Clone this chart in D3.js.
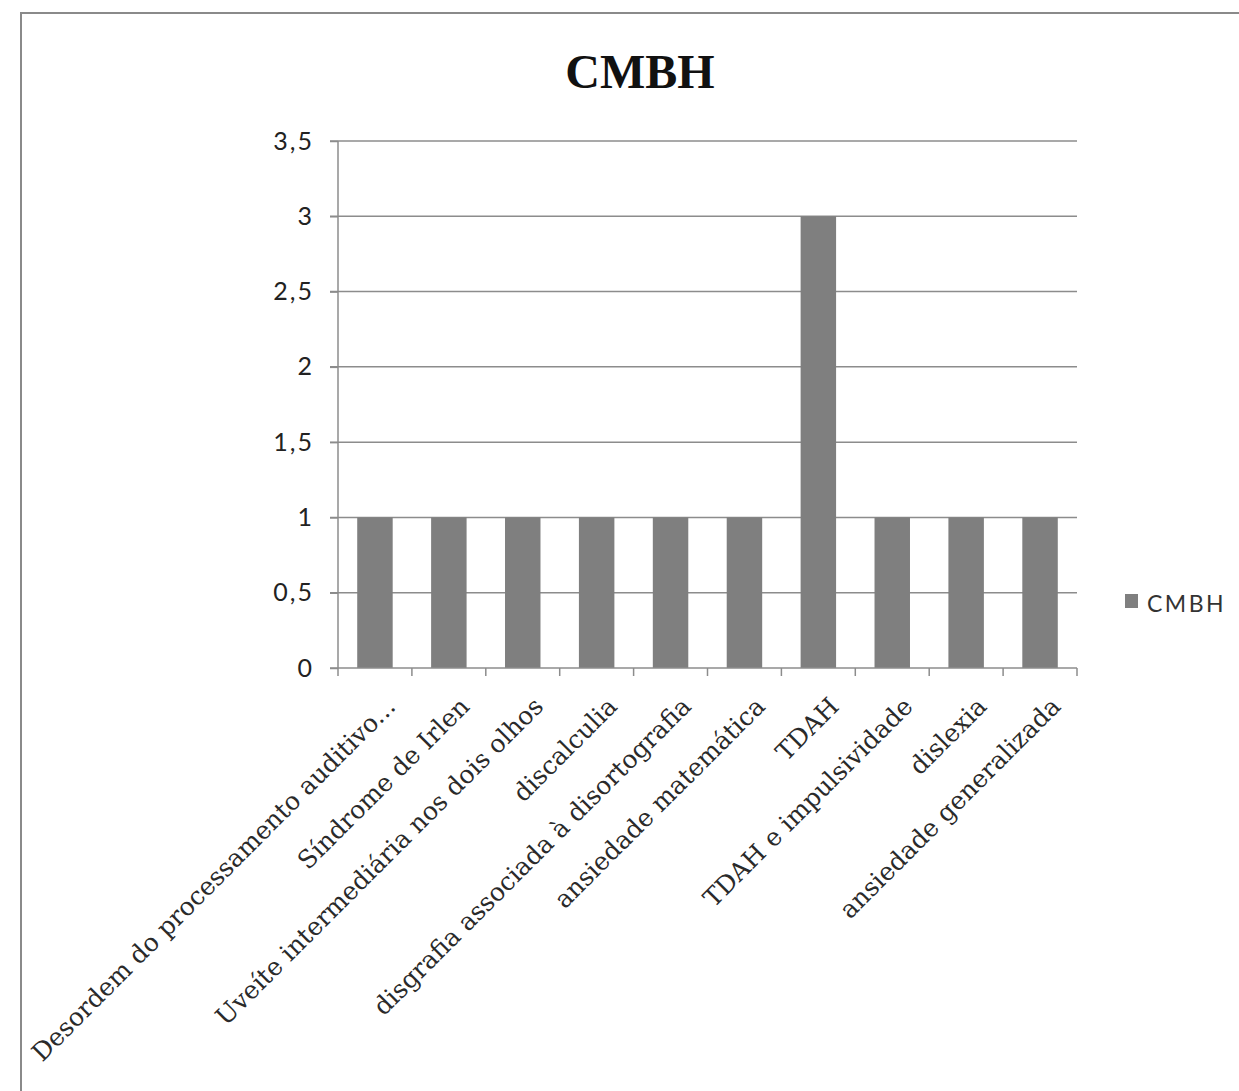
<!DOCTYPE html>
<html>
<head>
<meta charset="utf-8">
<script src="https://cdn.jsdelivr.net/npm/d3@7"></script>
<style>
  body { margin: 0; background: #fff; }
</style>
</head>
<body>
<svg></svg>
<script>
var width = 1239,
    height = 1091;

// data
var categories = ["Desordem do processamento auditivo...", "Síndrome de Irlen", "Uveíte intermediária nos dois olhos",
  "discalculia", "disgrafia associada à disortografia", "ansiedade matemática", "TDAH",
  "TDAH e impulsividade", "dislexia", "ansiedade generalizada"];
var values = [1, 1, 1, 1, 1, 1, 3, 1, 1, 1];
var yTicks = [0, 0.5, 1, 1.5, 2, 2.5, 3, 3.5];
var seriesName = "CMBH";

var margin = {left: 338, right: 1077, top: 141, bottom: 668};

var svg = d3.select("svg")
    .attr("width", width)
    .attr("height", height);

// outer frame
svg.append("rect")
    .attr("x", 21).attr("y", 13)
    .attr("width", 1260).attr("height", 1120)
    .attr("fill", "none")
    .attr("stroke", "#8a8a8a")
    .attr("stroke-width", 2);

var x = d3.scaleBand()
    .domain(categories)
    .range([margin.left, margin.right])
    .paddingInner(0.52)
    .paddingOuter(0.26);

var xStep = d3.scaleBand().domain(categories).range([margin.left, margin.right]);

var y = d3.scaleLinear()
    .domain([0, 3.5])
    .range([margin.bottom, margin.top]);

// gridlines
svg.append("g")
  .selectAll("line")
  .data(yTicks.filter(function(d) { return d > 0; }))
  .enter().append("line")
    .attr("x1", margin.left - 8)
    .attr("x2", margin.right)
    .attr("y1", function(d) { return y(d); })
    .attr("y2", function(d) { return y(d); })
    .attr("stroke", "#8c8c8c")
    .attr("stroke-width", 1.5);

// bars
svg.append("g")
  .selectAll("rect")
  .data(values)
  .enter().append("rect")
    .attr("x", function(d, i) { return x(categories[i]); })
    .attr("width", x.bandwidth())
    .attr("y", function(d) { return y(d); })
    .attr("height", function(d) { return y(0) - y(d); })
    .attr("fill", "#7f7f7f");

// y axis
var yAxis = svg.append("g")
    .attr("transform", "translate(" + margin.left + ",0)")
    .call(d3.axisLeft(y).tickValues(yTicks).tickSize(8).tickPadding(16)
      .tickFormat(function(d) { return String(d).replace(".", ","); }));
yAxis.selectAll("line, path").attr("stroke", "#8c8c8c").attr("stroke-width", 1.5);
yAxis.select("path").attr("d", "M0," + margin.bottom + "V" + margin.top);
yAxis.selectAll("text")
    .attr("fill", "#222")
    .style("font-family", "Lato, 'Liberation Sans', sans-serif")
    .style("font-size", "25px")
    .style("letter-spacing", "2px");

// x axis line + ticks at category boundaries
var bounds = categories.map(function(c) { return xStep(c); }).concat([margin.right]);
svg.append("line")
    .attr("x1", margin.left - 8).attr("x2", margin.right)
    .attr("y1", margin.bottom).attr("y2", margin.bottom)
    .attr("stroke", "#8c8c8c").attr("stroke-width", 1.5);
svg.append("g")
  .selectAll("line")
  .data(bounds)
  .enter().append("line")
    .attr("x1", function(d) { return d; })
    .attr("x2", function(d) { return d; })
    .attr("y1", margin.bottom)
    .attr("y2", margin.bottom + 8)
    .attr("stroke", "#8c8c8c")
    .attr("stroke-width", 1.5);

// category labels
svg.append("g")
  .selectAll("text")
  .data(categories)
  .enter().append("text")
    .attr("transform", function(d) {
      var cx = xStep(d) + xStep.bandwidth() / 2;
      return "translate(" + (cx + 22) + "," + (margin.bottom + 40) + ") rotate(-45)";
    })
    .attr("text-anchor", "end")
    .attr("fill", "#2a2a2a")
    .style("font-family", "'DejaVu Serif', serif")
    .style("font-size", "25px")
    .text(function(d) { return d; });

// title
svg.append("text")
    .attr("x", 640).attr("y", 88)
    .attr("text-anchor", "middle")
    .attr("fill", "#111")
    .style("font-family", "'Liberation Serif', serif")
    .style("font-weight", "bold")
    .style("font-size", "48px")
    .text(seriesName);

// legend
svg.append("rect")
    .attr("x", 1125).attr("y", 594)
    .attr("width", 13).attr("height", 14)
    .attr("fill", "#7f7f7f");
svg.append("text")
    .attr("x", 1147).attr("y", 612)
    .attr("fill", "#333")
    .style("font-family", "Lato, 'Liberation Sans', sans-serif")
    .style("font-size", "23px")
    .style("letter-spacing", "2.5px")
    .text(seriesName);
</script>
</body>
</html>
